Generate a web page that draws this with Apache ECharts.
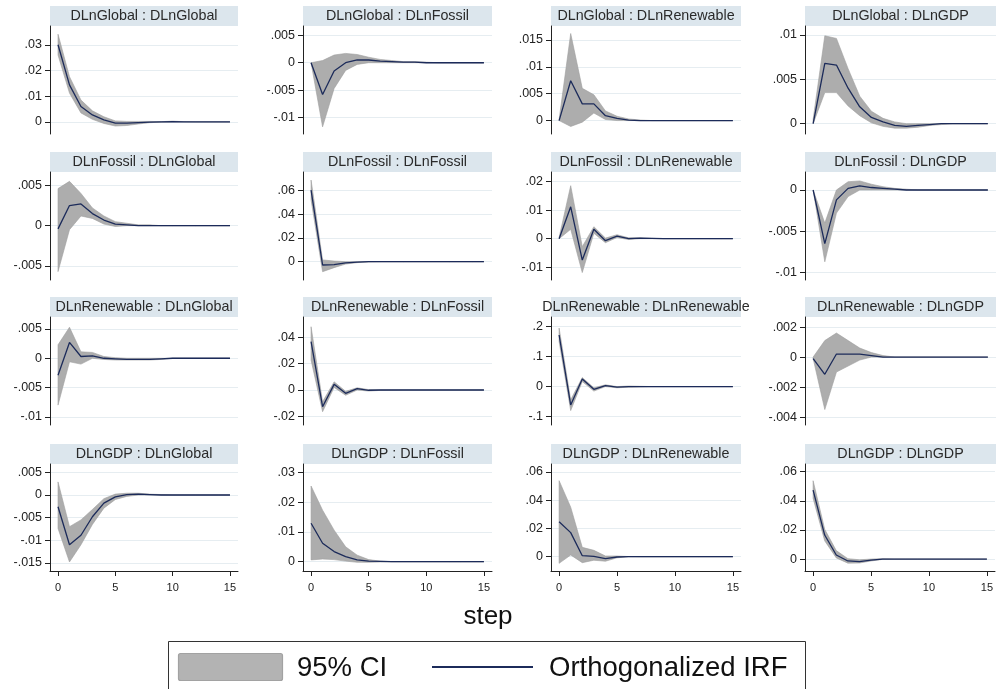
<!DOCTYPE html>
<html>
<head>
<meta charset="utf-8">
<script src="https://cdn.jsdelivr.net/npm/echarts@6/dist/echarts.min.js"></script>
<style>html,body{margin:0;padding:0;background:#fff}#c{width:996px;height:689px}</style>
</head>
<body>
<div id="c"></div>
<script>
// ---- data ----
const variables = ['DLnGlobal', 'DLnFossil', 'DLnRenewable', 'DLnGDP'];
const steps = [0,1,2,3,4,5,6,7,8,9,10,11,12,13,14,15];
const xTicks = [0, 5, 10, 15];

// impulse DLnGlobal
const irfGlobalGlobal = [0.030, 0.0144, 0.006, 0.0027, 0.0008, -0.0005, -0.0005, -0.0003, -0.0001, 0, 0.0001, 0, 0, 0, 0, 0];
const loGlobalGlobal  = [0.026, 0.0112, 0.0035, 0.0010, -0.0006, -0.0016, -0.0014, -0.0008, -0.0003, -0.0001, 0, 0, 0, 0, 0, 0];
const hiGlobalGlobal  = [0.0341, 0.0176, 0.0085, 0.0043, 0.0020, 0.0004, 0.0002, 0.0002, 0.0002, 0.0001, 0.0003, 0.0001, 0, 0, 0, 0];

const irfGlobalFossil = [0, -0.0058, -0.0015, 0, 0.0005, 0.0005, 0.0003, 0.0002, 0.0001, 0.0001, 0, 0, 0, 0, 0, 0];
const loGlobalFossil  = [0, -0.0117, -0.0047, -0.0014, -0.0003, 0, 0, 0, 0, 0, 0, 0, 0, 0, 0, 0];
const hiGlobalFossil  = [0, 0.0004, 0.0014, 0.0017, 0.0015, 0.0010, 0.0006, 0.0004, 0.0002, 0.0002, 0.0001, 0, 0, 0, 0, 0];

const irfGlobalRenewable = [0, 0.0074, 0.0031, 0.0031, 0.0009, 0.0004, 0.0001, 0, 0, 0, 0, 0, 0, 0, 0, 0];
const loGlobalRenewable  = [0, -0.0011, -0.0003, 0.0014, 0.0002, 0, 0, 0, 0, 0, 0, 0, 0, 0, 0, 0];
const hiGlobalRenewable  = [0.0002, 0.0162, 0.0060, 0.0048, 0.0018, 0.0008, 0.0003, 0.0001, 0, 0, 0, 0, 0, 0, 0, 0];

const irfGlobalGDP = [0, 0.0068, 0.0066, 0.0040, 0.0019, 0.0007, 0.0002, -0.0002, -0.0003, -0.0002, -0.0001, 0, 0, 0, 0, 0];
const loGlobalGDP  = [0, 0.0035, 0.0035, 0.0020, 0.0009, 0.0001, -0.0003, -0.0005, -0.0005, -0.0004, -0.0002, -0.0001, 0, 0, 0, 0];
const hiGlobalGDP  = [0.0005, 0.0099, 0.0096, 0.0062, 0.0031, 0.0014, 0.0006, 0.0002, 0, 0, 0, 0, 0, 0, 0, 0];

// impulse DLnFossil
const irfFossilGlobal = [-0.0004, 0.0025, 0.0027, 0.0015, 0.0007, 0.0002, 0.0001, 0, 0, 0, 0, 0, 0, 0, 0, 0];
const loFossilGlobal  = [-0.0057, -0.0005, 0.0012, 0.0009, 0.0002, -0.0001, 0, 0, 0, 0, 0, 0, 0, 0, 0, 0];
const hiFossilGlobal  = [0.0046, 0.0055, 0.0040, 0.0022, 0.0012, 0.0005, 0.0003, 0.0001, 0.0001, 0, 0, 0, 0, 0, 0, 0];

const irfFossilFossil = [0.0602, -0.0028, -0.0025, -0.0010, -0.0003, 0, 0, 0, 0, 0, 0, 0, 0, 0, 0, 0];
const loFossilFossil  = [0.0520, -0.0084, -0.0050, -0.0020, -0.0008, -0.0002, 0, 0, 0, 0, 0, 0, 0, 0, 0, 0];
const hiFossilFossil  = [0.0686, 0.0015, 0.0005, 0, 0, 0, 0, 0, 0, 0, 0, 0, 0, 0, 0, 0];

const irfFossilRenewable = [0, 0.0112, -0.0075, 0.0033, -0.0007, 0.0009, 0, 0.0002, 0.0001, 0, 0, 0, 0, 0, 0, 0];
const loFossilRenewable  = [0, 0.0033, -0.0119, 0.0019, -0.0014, 0.0004, -0.0003, 0, 0, 0, 0, 0, 0, 0, 0, 0];
const hiFossilRenewable  = [0.0004, 0.0186, -0.0028, 0.0042, 0.0002, 0.0014, 0.0003, 0.0003, 0.0001, 0, 0, 0, 0, 0, 0, 0];

const irfFossilGDP = [0, -0.0065, -0.0012, 0.0002, 0.0005, 0.0003, 0.0002, 0.0001, 0, 0, 0, 0, 0, 0, 0, 0];
const loFossilGDP  = [0, -0.0087, -0.0028, -0.0008, 0, 0, 0, 0, 0, 0, 0, 0, 0, 0, 0, 0];
const hiFossilGDP  = [0, -0.0040, 0, 0.0010, 0.0011, 0.0007, 0.0004, 0.0002, 0.0001, 0, 0, 0, 0, 0, 0, 0];

// impulse DLnRenewable
const irfRenewableGlobal = [-0.0029, 0.0027, 0.0003, 0.0004, 0, -0.0001, -0.0002, -0.0002, -0.0002, -0.0001, 0, 0, 0, 0, 0, 0];
const loRenewableGlobal  = [-0.0080, -0.0006, -0.0010, 0, -0.0002, -0.0003, -0.0003, -0.0003, -0.0003, -0.0002, 0, 0, 0, 0, 0, 0];
const hiRenewableGlobal  = [0.0023, 0.0053, 0.0011, 0.0010, 0.0003, 0.0001, 0, 0, 0, 0, 0, 0, 0, 0, 0, 0];

const irfRenewableFossil = [0.0367, -0.0127, 0.0043, -0.0025, 0.0010, -0.0002, 0, 0, 0, 0, 0, 0, 0, 0, 0, 0];
const loRenewableFossil  = [0.0228, -0.0165, 0.0020, -0.0040, 0, -0.0008, -0.0003, -0.0001, 0, 0, 0, 0, 0, 0, 0, 0];
const hiRenewableFossil  = [0.0481, -0.0089, 0.0062, -0.0010, 0.0017, 0.0003, 0.0001, 0, 0, 0, 0, 0, 0, 0, 0, 0];

const irfRenewableRenewable = [0.172, -0.061, 0.025, -0.009, 0.003, -0.002, 0, 0, 0, 0, 0, 0, 0, 0, 0, 0];
const loRenewableRenewable  = [0.150, -0.080, 0.017, -0.015, 0, -0.004, -0.002, -0.001, 0, 0, 0, 0, 0, 0, 0, 0];
const hiRenewableRenewable  = [0.195, -0.044, 0.030, -0.004, 0.006, 0, 0.002, 0.001, 0, 0, 0, 0, 0, 0, 0, 0];

const irfRenewableGDP = [-0.0001, -0.00115, 0.0002, 0.0002, 0.0002, 0.0001, 0, 0, 0, 0, 0, 0, 0, 0, 0, 0];
const loRenewableGDP  = [-0.0001, -0.0035, -0.0010, -0.0006, -0.0002, 0, 0, 0, 0, 0, 0, 0, 0, 0, 0, 0];
const hiRenewableGDP  = [0, 0.0011, 0.0016, 0.0011, 0.0006, 0.0003, 0.0001, 0, 0, 0, 0, 0, 0, 0, 0, 0];

// impulse DLnGDP
const irfGDPGlobal = [-0.0026, -0.0110, -0.0089, -0.0048, -0.0018, -0.0004, 0.0001, 0.0002, 0.0001, 0, 0, 0, 0, 0, 0, 0];
const loGDPGlobal  = [-0.0074, -0.0148, -0.0110, -0.0065, -0.0029, -0.0010, -0.0003, 0, 0, 0, 0, 0, 0, 0, 0, 0];
const hiGDPGlobal  = [0.0029, -0.0070, -0.0055, -0.0032, -0.0008, 0.0002, 0.0004, 0.0004, 0.0002, 0.0001, 0, 0, 0, 0, 0, 0];

const irfGDPFossil = [0.0129, 0.0062, 0.0034, 0.0017, 0.0006, 0.0002, 0.0001, 0, 0, 0, 0, 0, 0, 0, 0, 0];
const loGDPFossil  = [0.0006, 0.0009, 0.0007, 0.0002, -0.0002, -0.0002, -0.0001, 0, 0, 0, 0, 0, 0, 0, 0, 0];
const hiGDPFossil  = [0.0254, 0.0173, 0.0106, 0.0050, 0.0022, 0.0007, 0.0002, 0, 0, 0, 0, 0, 0, 0, 0, 0];

const irfGDPRenewable = [0.0247, 0.0170, 0.0007, 0.0003, -0.0013, -0.0002, 0, 0, 0, 0, 0, 0, 0, 0, 0, 0];
const loGDPRenewable  = [-0.0047, 0.0012, -0.0042, -0.0025, -0.0032, -0.0008, 0, 0, 0, 0, 0, 0, 0, 0, 0, 0];
const hiGDPRenewable  = [0.0537, 0.0350, 0.0066, 0.0045, 0.0005, 0.0005, 0.0001, 0, 0, 0, 0, 0, 0, 0, 0, 0];

const irfGDPGDP = [0.0474, 0.0165, 0.0028, -0.0013, -0.0017, -0.0007, 0, 0, 0, 0, 0, 0, 0, 0, 0, 0];
const loGDPGDP  = [0.0417, 0.0125, 0.0008, -0.0028, -0.0027, -0.0013, -0.0002, 0, 0, 0, 0, 0, 0, 0, 0, 0];
const hiGDPGDP  = [0.0538, 0.0205, 0.0058, 0.0003, -0.0005, 0, 0.0003, 0, 0, 0, 0, 0, 0, 0, 0, 0];

// y tick labels per panel (row = impulse, col = response)
const yTicksGlobalGlobal = [0, 0.01, 0.02, 0.03];
const yTicksGlobalFossil = [-0.01, -0.005, 0, 0.005];
const yTicksGlobalRenewable = [0, 0.005, 0.01, 0.015];
const yTicksGlobalGDP = [0, 0.005, 0.01];
const yTicksFossilGlobal = [-0.005, 0, 0.005];
const yTicksFossilFossil = [0, 0.02, 0.04, 0.06];
const yTicksFossilRenewable = [-0.01, 0, 0.01, 0.02];
const yTicksFossilGDP = [-0.01, -0.005, 0];
const yTicksRenewableGlobal = [-0.01, -0.005, 0, 0.005];
const yTicksRenewableFossil = [-0.02, 0, 0.02, 0.04];
const yTicksRenewableRenewable = [-0.1, 0, 0.1, 0.2];
const yTicksRenewableGDP = [-0.004, -0.002, 0, 0.002];
const yTicksGDPGlobal = [-0.015, -0.01, -0.005, 0, 0.005];
const yTicksGDPFossil = [0, 0.01, 0.02, 0.03];
const yTicksGDPRenewable = [0, 0.02, 0.04, 0.06];
const yTicksGDPGDP = [0, 0.02, 0.04, 0.06];

// ---- panel assembly ----
const short = ['Global', 'Fossil', 'Renewable', 'GDP'];
const dataSets = {
  GlobalGlobal: [irfGlobalGlobal, loGlobalGlobal, hiGlobalGlobal, yTicksGlobalGlobal],
  GlobalFossil: [irfGlobalFossil, loGlobalFossil, hiGlobalFossil, yTicksGlobalFossil],
  GlobalRenewable: [irfGlobalRenewable, loGlobalRenewable, hiGlobalRenewable, yTicksGlobalRenewable],
  GlobalGDP: [irfGlobalGDP, loGlobalGDP, hiGlobalGDP, yTicksGlobalGDP],
  FossilGlobal: [irfFossilGlobal, loFossilGlobal, hiFossilGlobal, yTicksFossilGlobal],
  FossilFossil: [irfFossilFossil, loFossilFossil, hiFossilFossil, yTicksFossilFossil],
  FossilRenewable: [irfFossilRenewable, loFossilRenewable, hiFossilRenewable, yTicksFossilRenewable],
  FossilGDP: [irfFossilGDP, loFossilGDP, hiFossilGDP, yTicksFossilGDP],
  RenewableGlobal: [irfRenewableGlobal, loRenewableGlobal, hiRenewableGlobal, yTicksRenewableGlobal],
  RenewableFossil: [irfRenewableFossil, loRenewableFossil, hiRenewableFossil, yTicksRenewableFossil],
  RenewableRenewable: [irfRenewableRenewable, loRenewableRenewable, hiRenewableRenewable, yTicksRenewableRenewable],
  RenewableGDP: [irfRenewableGDP, loRenewableGDP, hiRenewableGDP, yTicksRenewableGDP],
  GDPGlobal: [irfGDPGlobal, loGDPGlobal, hiGDPGlobal, yTicksGDPGlobal],
  GDPFossil: [irfGDPFossil, loGDPFossil, hiGDPFossil, yTicksGDPFossil],
  GDPRenewable: [irfGDPRenewable, loGDPRenewable, hiGDPRenewable, yTicksGDPRenewable],
  GDPGDP: [irfGDPGDP, loGDPGDP, hiGDPGDP, yTicksGDPGDP]
};
// axis ranges (Stata-style padding around data)
const yRanges = [
  [-0.0047, 0.0373], [-0.0130, 0.0067], [-0.0025, 0.0176], [-0.00116, 0.0110],
  [-0.00674, 0.00666], [-0.0154, 0.0754], [-0.0145, 0.0234], [-0.0109, 0.00218],
  [-0.0114, 0.00705], [-0.0266, 0.0555], [-0.128, 0.232], [-0.00453, 0.00267],
  [-0.0168, 0.00686], [-0.00312, 0.0328], [-0.0101, 0.0655], [-0.0082, 0.0653]
];

// layout
const colLeft = [50, 303, 551, 805];
const colWidth = [188, 189, 190, 191];
const rowTop = [26, 172, 317, 464];
const rowHeight = [108, 108, 108, 107];
const titleH = 20;

const FONT = '"Liberation Sans", Arial, sans-serif';
const AXIS_COLOR = '#222';
const LINE_COLOR = '#1c2b5a';
const BAND_COLOR = '#adadad';

function fmtY(v) {
  if (Math.abs(v) < 1e-12) return '0';
  return String(v).replace(/^(-?)0\./, '$1.');
}

const grids = [], xAxes = [], yAxes = [], series = [], graphics = [];

for (let r = 0; r < 4; r++) {
  for (let c = 0; c < 4; c++) {
    const i = r * 4 + c;
    const key = short[r] + short[c];
    const [irf, lo, hi, yt] = dataSets[key];
    const bottomRow = r === 3;
    grids.push({ left: colLeft[c], top: rowTop[r], width: colWidth[c], height: rowHeight[r], show: false });
    xAxes.push({
      type: 'value', gridIndex: i, min: -0.7, max: 15.7,
      axisLine: { show: bottomRow, onZero: false, lineStyle: { color: AXIS_COLOR, width: 1 } },
      axisTick: { show: bottomRow, length: 5, customValues: xTicks, lineStyle: { color: AXIS_COLOR } },
      axisLabel: { show: bottomRow, customValues: xTicks, margin: 11, fontSize: 11, color: '#222', fontFamily: FONT },
      splitLine: { show: false }
    });
    yAxes.push({
      type: 'value', gridIndex: i, min: yRanges[i][0], max: yRanges[i][1],
      axisLine: { show: true, onZero: false, lineStyle: { color: AXIS_COLOR, width: 1 } },
      axisTick: { show: true, length: 5, customValues: yt, lineStyle: { color: AXIS_COLOR } },
      axisLabel: { show: true, customValues: yt, margin: 8, fontSize: 12.5, color: '#222', fontFamily: FONT, formatter: fmtY },
      splitLine: { show: true, lineStyle: { color: '#e6edf1', width: 1 } }
    });
    series.push({
      type: 'custom', xAxisIndex: i, yAxisIndex: i, silent: true, z: 2,
      data: [[0, 0]],
      renderItem: (params, api) => {
        const pts = [];
        for (let k = 0; k < steps.length; k++) pts.push(api.coord([steps[k], hi[k]]));
        for (let k = steps.length - 1; k >= 0; k--) pts.push(api.coord([steps[k], lo[k]]));
        return { type: 'polygon', shape: { points: pts }, style: { fill: BAND_COLOR, stroke: '#9e9e9e', lineWidth: 0.6 } };
      }
    });
    series.push({
      type: 'line', xAxisIndex: i, yAxisIndex: i, z: 3, silent: true,
      symbol: 'none', data: steps.map((s, k) => [s, irf[k]]),
      lineStyle: { color: LINE_COLOR, width: 1.3 }
    });
    // panel title strip
    graphics.push({
      type: 'rect', left: colLeft[c], top: rowTop[r] - titleH,
      shape: { width: colWidth[c], height: titleH },
      style: { fill: '#dce6ed' }, silent: true
    });
    graphics.push({
      type: 'text', x: colLeft[c] + colWidth[c] / 2, y: rowTop[r] - titleH / 2,
      style: { text: variables[r] + ' : ' + variables[c], font: '14.3px ' + FONT, fill: '#2a2a2a', align: 'center', verticalAlign: 'middle' },
      silent: true
    });
  }
}

// x-axis title
graphics.push({
  type: 'text', x: 488, y: 617,
  style: { text: 'step', font: '26px ' + FONT, fill: '#111', align: 'center', verticalAlign: 'middle' }, silent: true
});
// legend
graphics.push({
  type: 'rect', shape: { x: 168.5, y: 641.5, width: 637, height: 60 },
  style: { fill: 'none', stroke: '#333', lineWidth: 1 }, silent: true
});
graphics.push({
  type: 'rect', shape: { x: 178.5, y: 653.5, width: 104, height: 27, r: 2 },
  style: { fill: '#b3b3b3', stroke: '#a2a2a2', lineWidth: 1.2 }, silent: true
});
graphics.push({
  type: 'text', x: 297, y: 668,
  style: { text: '95% CI', font: '27.5px ' + FONT, fill: '#111', align: 'left', verticalAlign: 'middle' }, silent: true
});
graphics.push({
  type: 'line', shape: { x1: 432, y1: 667, x2: 533, y2: 667 },
  style: { stroke: LINE_COLOR, lineWidth: 2 }, silent: true
});
graphics.push({
  type: 'text', x: 549, y: 668,
  style: { text: 'Orthogonalized IRF', font: '27.5px ' + FONT, fill: '#111', align: 'left', verticalAlign: 'middle' }, silent: true
});

const chart = echarts.init(document.getElementById('c'), null, { renderer: 'canvas' });
chart.setOption({
  animation: false,
  backgroundColor: '#fff',
  grid: grids, xAxis: xAxes, yAxis: yAxes, series: series,
  graphic: { elements: graphics }
});
</script>
</body>
</html>
